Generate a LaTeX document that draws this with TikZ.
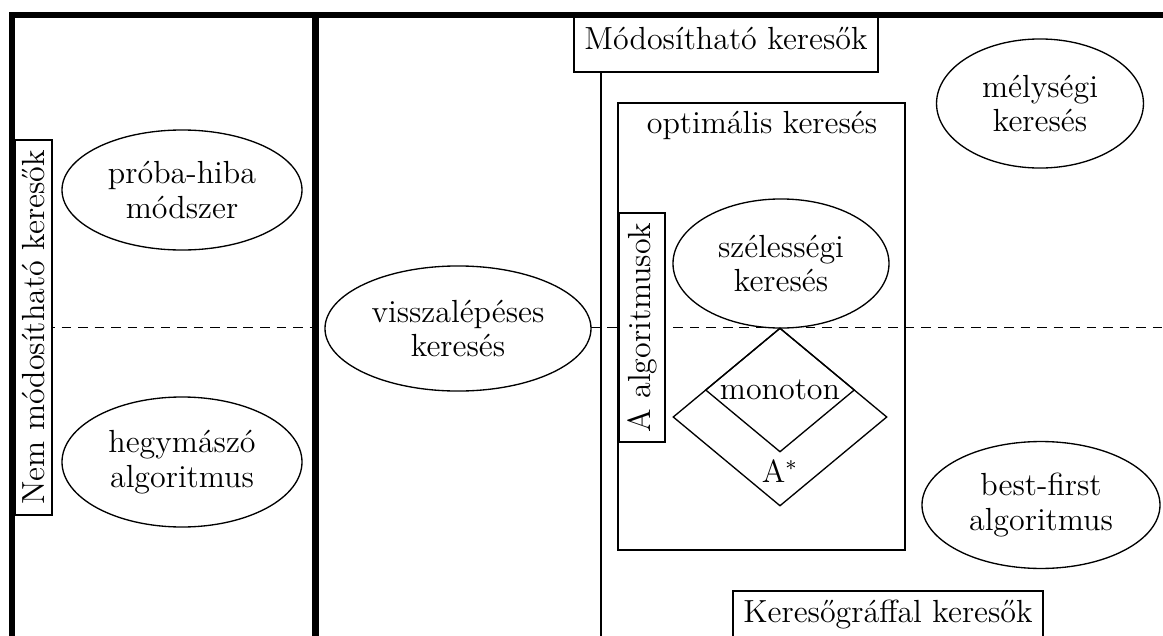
\documentclass[tikz,border=0pt]{standalone}
\usetikzlibrary{shapes.geometric}
\begin{document}
\begin{tikzpicture}[x=0.375pt,y=-0.375pt,
  every node/.style={font=\fontsize{12}{13.1}\selectfont},
  frame/.style={line width=2.4pt},
  hair/.style={line width=0.5pt},
  oval/.style={ellipse, draw, fill=white, inner sep=0pt, align=center, line width=0.5pt},
  tag/.style={rectangle, draw, fill=white, inner sep=2pt, line width=0.5pt},
  rhomb/.style={diamond, draw, inner sep=0pt, aspect=1.2, line width=0.5pt},
  divider/.style={dash pattern=on 3.6pt off 2.6pt, line width=0.5pt}]
\useasboundingbox (0,0) rectangle (1163,636);
\clip (0,0) rectangle (1163,636);

% headline box of the modifiable searchers
\node[tag, minimum width=114pt, text height=11.1pt, text depth=6.3pt] (mod) at (726,43.5) {Módosítható keresők};

% outer frame and the wall between the two groups
\coordinate (cornerBL) at (12,650);
\coordinate (corner) at (12,15);
\coordinate (cornerTR) at (1175,15);
\draw[frame] (cornerBL) -- (corner) -- (cornerTR);
\coordinate (wallTop) at (315.5,15);
\coordinate (wallBot) at (315.5,650);
\draw[frame] (wallTop) -- (wallBot);

% thin split line below the headline box
\coordinate (splitX) at (601,0);
\draw[hair] (mod.south -| splitX) -- (splitX |- wallBot);

% box of the optimal searches
\node[draw, line width=0.5pt, inner sep=0pt, minimum width=107.6pt, minimum height=167.6pt] (opt) at (761.5,326.5) {};
\node (optlabel) at (762,125) {optimális keresés};

% dashed middle line
\coordinate (dashL) at (12,327.5);
\coordinate (dashR) at (1175,327.5);
\draw[divider] (dashL) -- (dashR);

% vertical tags
\node[tag, rotate=90, minimum width=140.6pt, minimum height=13.9pt] (nem) at (33.5,327.5) {Nem módosítható keresők};
\node[tag, rotate=90, minimum width=85.9pt, minimum height=17.25pt] (aalg) at (642,327.5) {A algoritmusok};

% search methods
\node[oval, minimum width=90pt, minimum height=45pt] (proba) at (182,190) {próba-hiba\\módszer};
\node[oval, minimum width=90pt, minimum height=48.75pt] (hegy) at (182,462) {hegymászó\\algoritmus};
\node[oval, minimum width=99.75pt, minimum height=46.9pt] (vissza) at (458,328.5) {visszalépéses\\keresés};
\node[oval, minimum width=81pt, minimum height=48.4pt] (szeles) at (781,263.5) {szélességi\\keresés};
\node[oval, minimum width=77.6pt, minimum height=48.4pt] (melys) at (1040,103.5) {mélységi\\keresés};
\node[oval, minimum width=89.25pt, minimum height=47.6pt] (best) at (1041,505) {best-first\\algoritmus};

% A* and the monotone case
\node[rhomb, minimum width=80.25pt, minimum height=66.75pt] (astar) at (780,417) {};
\node[rhomb, minimum width=55.9pt, minimum height=46.5pt] (mono) at (780,390) {monoton};
\node (astarlabel) at (780,471) {A$^*$};

% footer box of the search-graph searchers
\node[tag, minimum width=116.25pt, text height=10pt, text depth=6.3pt] (graf) at (888,618) {Keresőgráffal keresők};
\end{tikzpicture}
\end{document}
